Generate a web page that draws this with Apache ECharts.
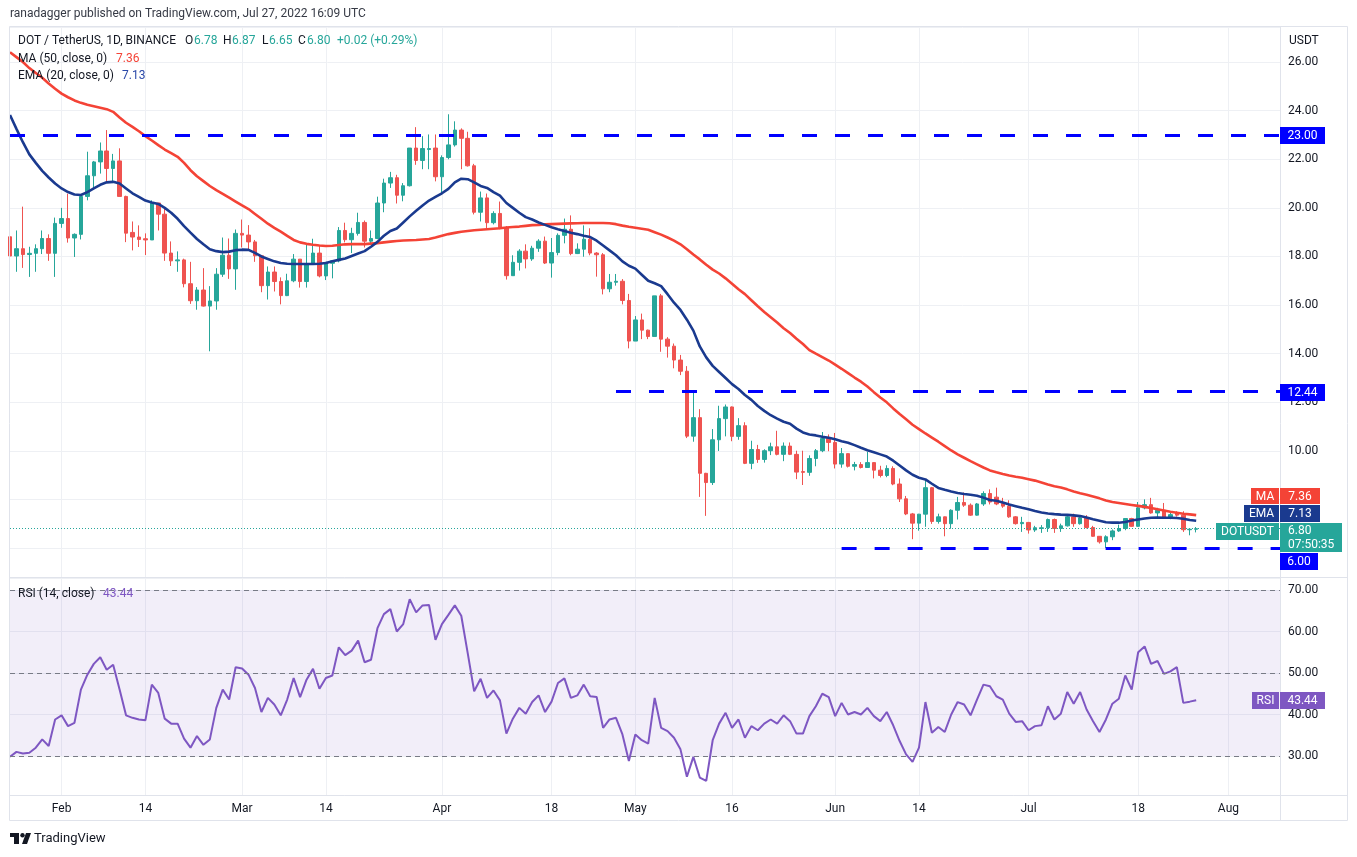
<!DOCTYPE html>
<html><head><meta charset="utf-8">
<script src="https://cdn.jsdelivr.net/npm/echarts@6/dist/echarts.min.js"></script>
<style>html,body{margin:0;padding:0;background:#fff;}#c{width:1357px;height:857px;}</style>
</head><body><div id="c"></div>
<script>
// ---------- DATA ----------
const startDate = '2022-01-24';
const dayCount = 198; // Jan 24 .. Aug 9
const categories = [];
for (let k = 0, t = Date.UTC(2022, 0, 24); k < dayCount; k++, t += 86400000) categories.push(new Date(t).toISOString().slice(0, 10));

const tickDates = ['2022-02-01','2022-02-14','2022-03-01','2022-03-14','2022-04-01','2022-04-18','2022-05-01','2022-05-16','2022-06-01','2022-06-14','2022-07-01','2022-07-18','2022-08-01'];
const tickLabels = ['Feb','14','Mar','14','Apr','18','May','16','Jun','14','Jul','18','Aug'];

const open = [
18.81,18.02,18.32,18.08,18.13,18.32,18.74,18.13,19.36,19.56,
18.76,18.91,20.47,21.32,21.89,22.34,21.62,21.93,20.47,18.99,
18.80,18.73,18.68,20.20,19.74,18.14,17.82,17.86,16.88,16.18,
16.62,15.96,16.17,17.27,18.05,17.49,18.95,18.88,18.60,18.03,
16.80,17.36,16.97,16.39,17.00,17.89,16.97,17.69,18.14,17.20,
17.72,17.82,19.07,18.69,18.95,19.40,18.63,18.74,20.20,21.02,
21.24,20.52,20.91,22.46,21.95,22.40,22.46,21.28,22.07,22.59,
23.20,22.86,21.73,19.82,20.41,19.39,19.77,19.18,17.21,17.76,
18.22,17.90,18.34,18.63,17.73,18.16,18.87,19.12,18.12,18.30,
18.71,18.14,18.07,16.67,16.94,16.98,16.19,14.52,15.39,14.97,
14.71,16.38,14.60,14.31,13.74,13.28,10.61,11.37,9.08,8.70,
10.46,11.33,11.81,10.60,11.04,9.49,10.06,9.65,10.01,10.17,
9.86,10.20,9.86,9.15,9.12,9.69,10.01,10.51,10.35,9.46,
9.89,9.37,9.44,9.32,9.52,9.21,8.99,9.28,8.64,8.03,
7.41,7.03,7.40,8.49,7.10,7.29,7.01,7.56,7.88,7.77,
7.36,7.82,8.25,8.10,7.84,7.73,7.29,7.01,7.06,6.75,
6.81,6.84,7.18,6.81,6.92,7.29,7.01,7.25,6.85,6.49,
6.26,6.47,6.71,6.81,7.22,6.90,7.66,7.79,7.45,7.56,
7.25,7.45,7.36,6.76,6.78];
const high = [
18.85,19.07,20.05,18.40,18.50,19.07,18.91,19.60,20.00,20.58,
18.95,20.50,22.31,21.93,22.69,23.20,22.22,22.45,20.50,19.44,
19.28,18.95,20.31,20.20,20.00,18.62,18.21,17.91,17.78,16.74,
17.52,16.78,17.52,18.78,18.74,19.11,19.52,19.29,18.68,18.05,
17.59,17.59,17.14,17.29,18.10,17.89,18.50,18.73,18.43,17.76,
17.82,19.21,19.39,19.18,19.80,19.48,19.07,20.46,21.20,21.48,
21.36,21.02,22.46,23.32,22.95,23.02,23.02,22.16,23.85,23.56,
23.27,23.13,21.81,20.67,20.59,19.86,20.26,19.25,18.05,18.30,
18.50,18.44,18.71,18.82,18.76,18.95,19.56,19.69,18.54,19.28,
19.16,18.18,18.14,17.28,17.28,17.07,16.46,15.55,15.65,14.99,
16.38,16.46,14.68,14.42,13.95,13.49,12.44,11.72,9.10,10.90,
11.86,11.91,11.83,11.35,11.18,10.42,10.25,10.07,10.34,10.83,
10.35,10.35,10.01,10.01,9.82,10.08,10.78,10.68,10.74,10.12,
9.90,9.55,9.54,9.97,9.53,9.39,9.41,9.37,8.87,8.15,
7.45,7.41,8.82,8.52,7.42,7.30,7.60,8.11,8.29,7.84,
7.86,8.34,8.42,8.49,8.07,7.97,7.32,7.29,7.08,6.92,
6.95,7.22,7.22,7.01,7.33,7.42,7.29,7.36,6.92,6.50,
6.53,6.77,6.97,7.22,7.25,7.90,8.01,8.07,7.66,7.86,
7.49,7.52,7.52,6.82,6.87];
const low = [
15.87,17.37,17.53,17.16,17.37,18.10,17.82,17.16,19.18,18.57,
17.98,18.70,20.31,20.81,21.41,21.09,21.02,20.47,18.59,18.25,
18.39,18.06,18.68,19.07,17.82,17.61,17.37,16.73,16.05,15.81,
15.94,14.10,15.81,17.16,17.08,16.63,18.37,18.23,17.78,16.53,
16.23,16.56,16.03,16.37,16.94,16.72,16.72,17.66,17.14,17.03,
17.10,17.76,18.58,18.14,18.86,18.37,18.50,18.71,19.82,20.82,
20.18,20.27,20.88,21.77,21.59,21.59,21.09,20.61,22.00,22.52,
21.59,21.70,19.73,19.44,19.16,19.32,19.12,17.05,17.21,17.42,
17.51,17.82,18.19,17.69,17.13,18.05,18.54,18.05,18.10,17.99,
18.05,17.17,16.44,16.53,16.80,16.03,14.22,14.52,14.60,14.60,
14.71,14.08,13.84,13.40,13.12,10.53,10.38,8.11,7.33,8.60,
10.00,10.60,10.40,10.46,9.46,9.25,9.51,9.52,9.83,9.82,
9.58,9.83,8.84,8.60,8.98,9.37,9.95,9.99,9.28,9.31,
9.32,9.20,9.28,9.32,8.87,8.91,8.92,8.59,7.90,7.36,
6.37,6.72,6.88,7.00,7.01,6.49,6.80,7.18,7.70,7.33,
7.34,7.74,7.80,7.77,7.66,7.25,6.97,6.67,6.60,6.67,
6.63,6.67,6.63,6.67,6.89,6.88,6.97,6.81,6.47,6.19,
6.01,6.33,6.67,6.74,6.88,6.88,7.60,7.42,7.22,7.22,
7.19,7.30,6.67,6.53,6.65];
const close = [
18.02,18.32,18.08,18.13,18.32,18.74,18.13,19.36,19.56,18.76,
18.91,20.47,21.32,21.89,22.34,21.62,21.93,20.47,18.96,18.80,
18.70,18.68,20.20,19.74,18.14,17.82,17.86,16.88,16.18,16.62,
15.96,16.17,17.27,18.05,17.49,18.95,18.88,18.60,18.03,16.80,
17.36,16.97,16.39,17.00,17.89,16.97,17.69,18.14,17.20,17.76,
17.82,19.07,18.69,18.95,19.40,18.63,18.74,20.20,21.02,21.24,
20.52,20.91,22.46,21.95,22.44,22.44,21.28,22.07,22.59,23.20,
22.86,21.73,19.82,20.41,19.39,19.77,19.18,17.21,17.76,18.22,
17.90,18.34,18.63,17.73,18.16,18.87,19.12,18.12,18.30,18.71,
18.14,18.07,16.67,16.94,16.98,16.19,14.52,15.39,14.97,14.71,
16.38,14.60,14.31,13.74,13.28,10.61,11.37,9.08,8.70,10.46,
11.33,11.81,10.60,11.04,9.49,10.06,9.65,10.01,10.17,9.86,
10.20,9.86,9.13,9.12,9.69,10.01,10.51,10.35,9.46,9.89,
9.37,9.44,9.32,9.52,9.21,8.99,9.28,8.64,8.03,7.41,
7.03,7.40,8.49,7.10,7.29,7.01,7.56,7.88,7.77,7.36,
7.82,8.25,7.90,7.82,7.73,7.29,7.01,7.06,6.75,6.84,
6.84,7.18,6.81,6.92,7.29,7.01,7.25,6.85,6.49,6.26,
6.47,6.71,6.81,7.22,6.90,7.66,7.79,7.45,7.56,7.25,
7.38,7.36,6.76,6.78,6.80];
const ma50 = [
26.40,26.20,26.00,25.75,25.55,25.35,25.12,24.90,24.70,24.55,
24.42,24.32,24.24,24.18,24.12,24.06,23.95,23.72,23.50,23.33,
23.15,22.95,22.77,22.58,22.40,22.25,22.10,21.85,21.55,21.30,
21.10,20.90,20.73,20.58,20.42,20.26,20.10,19.95,19.75,19.55,
19.35,19.18,19.02,18.85,18.68,18.58,18.52,18.48,18.45,18.43,
18.44,18.47,18.50,18.51,18.51,18.51,18.53,18.55,18.58,18.61,
18.64,18.66,18.67,18.68,18.70,18.72,18.78,18.85,18.92,18.97,
19.02,19.05,19.08,19.10,19.12,19.14,19.16,19.19,19.21,19.23,
19.26,19.29,19.30,19.32,19.33,19.34,19.35,19.36,19.37,19.38,
19.38,19.38,19.38,19.37,19.33,19.27,19.22,19.18,19.14,19.10,
19.00,18.90,18.78,18.65,18.50,18.30,18.08,17.88,17.66,17.46,
17.30,17.10,16.88,16.65,16.45,16.20,15.95,15.72,15.50,15.28,
15.05,14.85,14.62,14.40,14.15,14.00,13.86,13.72,13.55,13.38,
13.20,13.02,12.85,12.65,12.42,12.20,12.00,11.75,11.52,11.30,
11.08,10.90,10.72,10.55,10.38,10.20,10.02,9.86,9.72,9.58,
9.45,9.32,9.20,9.12,9.05,8.99,8.94,8.90,8.84,8.78,
8.70,8.62,8.55,8.50,8.42,8.33,8.26,8.20,8.13,8.05,
7.96,7.90,7.86,7.82,7.78,7.74,7.70,7.65,7.60,7.55,
7.50,7.46,7.42,7.39,7.36];
const ema20 = [
23.82,23.25,22.70,22.20,21.85,21.52,21.25,21.00,20.80,20.65,
20.55,20.53,20.65,20.80,20.95,21.05,21.07,21.00,20.80,20.60,
20.45,20.30,20.22,20.16,20.00,19.80,19.55,19.25,18.98,18.72,
18.50,18.30,18.22,18.18,18.20,18.26,18.28,18.27,18.15,18.00,
17.90,17.80,17.73,17.70,17.69,17.69,17.69,17.69,17.70,17.73,
17.80,17.86,17.92,18.02,18.12,18.22,18.40,18.60,18.85,19.05,
19.15,19.40,19.65,19.88,20.10,20.30,20.45,20.60,20.78,21.05,
21.20,21.18,21.05,20.90,20.82,20.65,20.50,20.20,20.00,19.80,
19.62,19.52,19.40,19.30,19.20,19.12,19.05,18.98,18.92,18.85,
18.80,18.65,18.45,18.25,18.05,17.80,17.62,17.50,17.25,17.00,
16.90,16.78,16.45,16.10,15.80,15.40,14.95,14.30,13.85,13.50,
13.25,13.00,12.75,12.55,12.30,12.10,11.85,11.65,11.47,11.33,
11.20,11.12,10.92,10.76,10.68,10.64,10.58,10.54,10.48,10.40,
10.34,10.24,10.13,10.03,9.95,9.86,9.77,9.60,9.40,9.20,
9.02,8.90,8.83,8.65,8.48,8.40,8.33,8.27,8.23,8.20,
8.16,8.08,7.98,7.95,7.88,7.80,7.73,7.66,7.60,7.53,
7.47,7.43,7.40,7.38,7.37,7.35,7.32,7.26,7.19,7.13,
7.07,7.05,7.05,7.08,7.14,7.18,7.22,7.25,7.26,7.25,
7.25,7.24,7.21,7.16,7.13];
const rsi14 = [
29.8,31.0,30.6,30.8,32.0,34.0,32.4,38.8,39.8,37.2,
38.0,46.0,49.6,52.2,53.8,50.8,52.0,46.0,39.8,39.2,
38.8,38.6,47.2,45.2,39.0,37.8,37.8,34.2,32.0,34.8,
32.7,34.0,41.6,46.0,43.6,51.4,51.1,49.6,46.4,40.6,
44.0,42.4,39.8,43.6,48.8,44.2,48.4,51.0,46.2,48.8,
49.4,56.2,54.3,55.4,57.8,52.6,53.2,60.8,64.2,65.4,
60.0,61.8,67.8,64.6,66.3,66.4,58.0,61.8,64.0,66.3,
63.8,54.8,45.6,48.6,44.0,45.8,43.4,35.4,39.0,41.6,
40.2,43.0,44.6,40.6,43.1,47.6,48.7,44.0,44.6,47.2,
44.4,44.2,36.8,38.8,39.2,35.2,28.8,35.2,33.8,33.0,
44.0,36.8,36.0,34.4,31.6,25.0,29.8,24.8,24.0,33.8,
37.8,40.4,36.8,38.8,34.4,37.2,36.2,37.8,38.8,37.8,
39.8,38.4,35.4,35.4,39.6,42.0,45.0,44.2,39.6,42.8,
40.0,40.6,40.0,41.6,39.6,38.4,40.6,37.4,33.6,30.4,
28.6,32.0,43.0,35.6,37.0,35.8,40.0,43.0,42.4,39.8,
43.6,47.2,46.8,44.4,43.6,40.2,38.2,38.4,36.2,37.2,
37.4,42.0,38.8,40.2,45.4,42.6,45.4,41.2,38.4,35.8,
38.8,42.6,43.8,49.4,46.0,55.0,56.4,52.2,52.9,49.8,
50.4,51.4,42.8,43.1,43.44];

const levelValues = [23.00, 12.44, 6.00];
const levelStarts = ['2022-01-24', '2022-04-28', '2022-06-02'];
const levelEnd = '2022-08-09';
const lastPrice = 6.80;
const rsiBands = [70, 50, 30];

// ---------- CHART ----------
const candles = open.map((o, i) => [o, close[i], low[i], high[i]]);
const isTick = (idx, val) => tickDates.indexOf(val) >= 0;
const FONT = 'Roboto, "Liberation Sans", Arial, sans-serif';
const DARK = '#131722';
const GRID = '#eef0f4';
const BORDER = '#e0e3eb';

const chart = echarts.init(document.getElementById('c'), null, {renderer: 'canvas'});

function txt(x, y, s, fill, size, extra) {
  return Object.assign({type: 'text', x: x, y: y, z: 100, silent: true,
    style: {text: s, fill: fill, font: (size || 12) + 'px ' + FONT, verticalAlign: 'middle', align: 'left'}}, extra || {});
}
function box(x, y, w, h, fill, s, size) {
  return {type: 'group', z: 100, silent: true, children: [
    {type: 'rect', z: 100, shape: {x: x, y: y, width: w, height: h}, style: {fill: fill}},
    {type: 'text', z: 101, x: x + w / 2, y: y + h / 2 + 0.5, style: {text: s, fill: '#ffffff', font: (size || 12) + 'px ' + FONT, align: 'center', verticalAlign: 'middle'}}
  ]};
}

const levelLines = levelValues.map((v, i) => [
  {coord: [levelStarts[i], v]}, {coord: [levelEnd, v]}
]);

const graphics = [
  // frame
  {type: 'rect', z: 99, silent: true, shape: {x: 9.5, y: 26.5, width: 1338, height: 794}, style: {fill: 'none', stroke: BORDER, lineWidth: 1}},
  {type: 'line', z: 99, silent: true, shape: {x1: 10, y1: 577.5, x2: 1348, y2: 577.5}, style: {stroke: BORDER, lineWidth: 1}},
  {type: 'line', z: 99, silent: true, shape: {x1: 10, y1: 795.5, x2: 1348, y2: 795.5}, style: {stroke: BORDER, lineWidth: 1}},
  {type: 'line', z: 99, silent: true, shape: {x1: 1280.5, y1: 27, x2: 1280.5, y2: 820}, style: {stroke: BORDER, lineWidth: 1}},
  // header
  txt(10, 14, 'ranadagger published on TradingView.com, Jul 27, 2022 16:09 UTC', '#363a45', 12),
  // legend line 1
  txt(18, 41, 'DOT / TetherUS, 1D, BINANCE', DARK, 12),
  txt(185, 41, 'O', DARK, 12), txt(194, 41, '6.78', '#26a69a', 12),
  txt(223, 41, 'H', DARK, 12), txt(232, 41, '6.87', '#26a69a', 12),
  txt(262, 41, 'L', DARK, 12), txt(269, 41, '6.65', '#26a69a', 12),
  txt(298, 41, 'C', DARK, 12), txt(307, 41, '6.80', '#26a69a', 12),
  txt(337, 41, '+0.02 (+0.29%)', '#26a69a', 12),
  txt(18, 59, 'MA (50, close, 0)', DARK, 12), txt(116, 59, '7.36', '#f44336', 12),
  txt(18, 76, 'EMA (20, close, 0)', DARK, 12), txt(122, 76, '7.13', '#2a48a8', 12),
  txt(18, 594, 'RSI (14, close)', DARK, 12), txt(103, 594, '43.44', '#7e57c2', 12),
  txt(1289, 41, 'USDT', DARK, 12),
  // right side value boxes
  box(1280, 127, 45, 17, '#0000ff', '23.00'),
  box(1280, 384, 45, 17, '#0000ff', '12.44'),
  box(1251, 488, 28, 16, '#f44336', 'MA'), box(1280, 488, 40, 16, '#f44336', '7.36'),
  box(1244, 505, 35, 17, '#1a3a8f', 'EMA'), box(1280, 505, 40, 17, '#1a3a8f', '7.13'),
  box(1216, 523, 63, 17, '#26a69a', 'DOTUSDT'),
  {type: 'rect', z: 100, silent: true, shape: {x: 1280, y: 523, width: 62, height: 29}, style: {fill: '#26a69a'}},
  txt(1288, 531, '6.80', '#ffffff', 12, {z: 101}),
  txt(1288, 545, '07:50:35', '#ffffff', 12, {z: 101}),
  box(1280, 553, 38, 17, '#0000ff', '6.00'),
  box(1252, 692, 27, 17, '#7e57c2', 'RSI'), box(1280, 692, 45, 17, '#7e57c2', '43.44'),
  // TradingView logo
  {type: 'rect', z: 100, silent: true, shape: {x: 10, y: 833, width: 9, height: 4}, style: {fill: DARK}},
  {type: 'rect', z: 100, silent: true, shape: {x: 14, y: 833, width: 5, height: 11}, style: {fill: DARK}},
  {type: 'circle', z: 100, silent: true, shape: {cx: 22.5, cy: 835.2, r: 2.2}, style: {fill: DARK}},
  {type: 'polygon', z: 100, silent: true, shape: {points: [[26, 833], [31, 833], [27, 844], [22, 844]]}, style: {fill: DARK}},
  txt(34, 839, 'TradingView', DARK, 13)
];

const option = {
  animation: false,
  backgroundColor: '#ffffff',
  textStyle: {fontFamily: FONT},
  grid: [
    {left: 10, right: 77, top: 27, height: 550},
    {left: 10, right: 77, top: 578, height: 217}
  ],
  xAxis: [
    {type: 'category', gridIndex: 0, data: categories, boundaryGap: false,
      axisLine: {show: false}, axisTick: {show: false}, axisLabel: {show: false},
      splitLine: {show: true, interval: isTick, lineStyle: {color: GRID, width: 1}}},
    {type: 'category', gridIndex: 1, data: categories, boundaryGap: false,
      axisLine: {show: false}, axisTick: {show: false},
      axisLabel: {show: true, interval: isTick, margin: 8, color: DARK, fontSize: 12, fontFamily: FONT,
        formatter: v => { const k = tickDates.indexOf(v); return k >= 0 ? tickLabels[k] : ''; }},
      splitLine: {show: true, interval: isTick, lineStyle: {color: GRID, width: 1}}}
  ],
  yAxis: [
    {type: 'value', gridIndex: 0, position: 'right', min: 4.815, max: 27.44,
      splitNumber: 11, minInterval: 2, maxInterval: 2,
      axisLine: {show: false}, axisTick: {show: false},
      axisLabel: {margin: 8, color: DARK, fontSize: 12, fontFamily: FONT, showMinLabel: false, showMaxLabel: false,
        formatter: v => v.toFixed(2)},
      splitLine: {show: true, lineStyle: {color: GRID, width: 1}}},
    {type: 'value', gridIndex: 1, position: 'right', min: 20.6, max: 72.9,
      splitNumber: 5, minInterval: 10, maxInterval: 10,
      axisLine: {show: false}, axisTick: {show: false},
      axisLabel: {margin: 8, color: DARK, fontSize: 12, fontFamily: FONT, showMinLabel: false, showMaxLabel: false,
        formatter: v => v.toFixed(2)},
      splitLine: {show: true, lineStyle: {color: GRID, width: 1}}}
  ],
  series: [
    {type: 'candlestick', name: 'DOTUSDT', xAxisIndex: 0, yAxisIndex: 0, data: candles, barWidth: 4, z: 2,
      itemStyle: {color: '#26a69a', color0: '#ef5350', borderColor: '#26a69a', borderColor0: '#ef5350', borderWidth: 1},
      markLine: {silent: true, symbol: ['none', 'none'], label: {show: false}, animation: false,
        data: [
          {yAxis: lastPrice, lineStyle: {color: '#26a69a', type: [1, 2], width: 1}},
          ...levelLines.map(seg => [Object.assign({}, seg[0], {lineStyle: {color: '#0000ff', type: [15, 18], width: 3}}), seg[1]])
        ]}},
    {type: 'line', name: 'MA', xAxisIndex: 0, yAxisIndex: 0, data: ma50, symbol: 'none', z: 4,
      lineStyle: {color: '#f44336', width: 2.6}},
    {type: 'line', name: 'EMA', xAxisIndex: 0, yAxisIndex: 0, data: ema20, symbol: 'none', z: 4,
      lineStyle: {color: '#1a3a8f', width: 2.6}},
    {type: 'line', name: 'RSI', xAxisIndex: 1, yAxisIndex: 1, data: rsi14, symbol: 'none', z: 4,
      lineStyle: {color: '#7e57c2', width: 2},
      markArea: {silent: true, itemStyle: {color: 'rgba(126,87,194,0.1)'}, data: [[{yAxis: rsiBands[2]}, {yAxis: rsiBands[0]}]]},
      markLine: {silent: true, symbol: ['none', 'none'], label: {show: false},
        lineStyle: {color: '#787b86', type: [5, 4], width: 1},
        data: rsiBands.map(v => ({yAxis: v}))}}
  ],
  graphic: graphics
};
chart.setOption(option);
</script>
</body></html>
